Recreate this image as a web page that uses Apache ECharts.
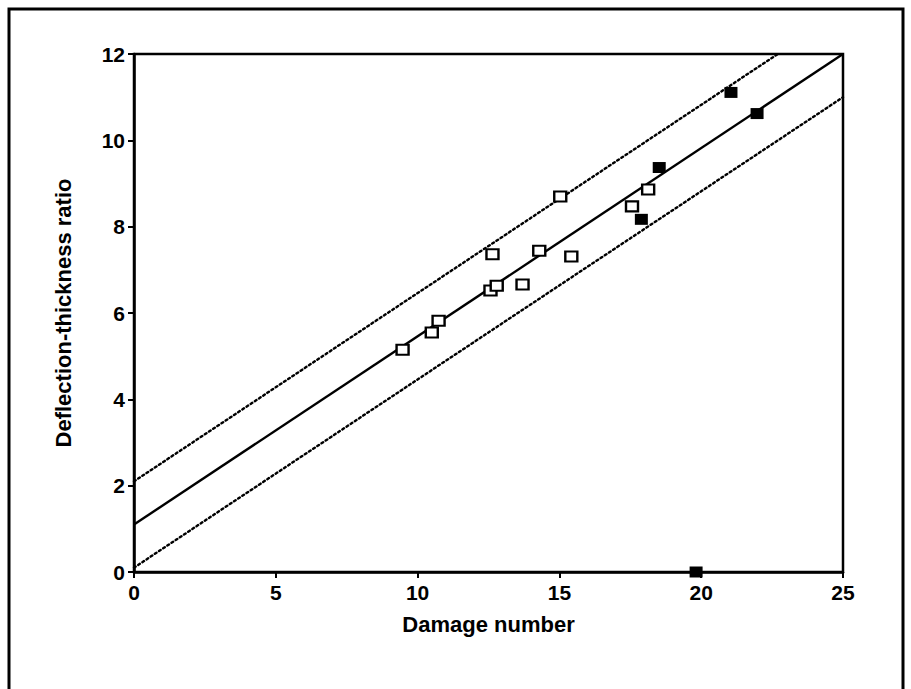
<!DOCTYPE html>
<html>
<head>
<meta charset="utf-8">
<script src="https://cdn.jsdelivr.net/npm/echarts@6/dist/echarts.min.js"></script>
<style>
  html, body { margin: 0; padding: 0; background: #fff; }
  #chart { width: 911px; height: 689px; }
</style>
</head>
<body>
<div id="chart"></div>
<script>
// open squares
const openPts = [
  [9.47, 5.15], [10.5, 5.55], [10.74, 5.82], [12.57, 6.52], [12.79, 6.63],
  [12.64, 7.36], [13.7, 6.66], [14.29, 7.44], [15.03, 8.7], [15.42, 7.31],
  [17.56, 8.47], [18.13, 8.86]
];
// filled squares
const filledPts = [
  [17.89, 8.17], [18.52, 9.37], [21.05, 11.11], [21.97, 10.62], [19.82, 0]
];
// fit line and +/- 1 bands
const fitLine = [[0, 1.1], [25, 12]];
const upperLine = [[0, 2.1], [22.7, 12]];
const lowerLine = [[0, 0.1], [25, 11]];

const xTicks = [0, 5, 10, 15, 20, 25];
const yTicks = [0, 2, 4, 6, 8, 10, 12];

const FONT = 'Liberation Sans';
const chart = echarts.init(document.getElementById('chart'), null, {renderer: 'svg'});

const dotted = {color: '#000', width: 2.4, type: [2, 3], cap: 'round'};
const labelFont = {fontFamily: FONT, fontWeight: 'bold', fontSize: 21, color: '#000'};
const nameFont = {fontFamily: FONT, fontWeight: 'bold', fontSize: 22, color: '#000'};

chart.setOption({
  animation: false,
  backgroundColor: '#fff',
  graphic: [{
    type: 'rect',
    shape: {x: 9, y: 9, width: 894, height: 700},
    style: {fill: 'none', stroke: '#000', lineWidth: 3},
    silent: true
  }],
  grid: {left: 134, right: 68, top: 54, bottom: 117, show: true,
    borderColor: '#000', borderWidth: 2.5, backgroundColor: 'transparent'},
  xAxis: {
    type: 'value', min: 0, max: 25, interval: 5,
    name: 'Damage number', nameLocation: 'middle', nameGap: 41,
    nameTextStyle: nameFont,
    axisLine: {lineStyle: {color: '#000', width: 2.5}},
    axisTick: {show: true, length: 6, lineStyle: {color: '#000', width: 2}},
    axisLabel: Object.assign({margin: 10,
      formatter: v => xTicks.includes(v) ? String(v) : ''}, labelFont),
    splitLine: {show: false}
  },
  yAxis: {
    type: 'value', min: 0, max: 12, interval: 2,
    name: 'Deflection-thickness ratio', nameLocation: 'middle', nameGap: 60,
    nameTextStyle: nameFont,
    axisLine: {show: true, lineStyle: {color: '#000', width: 2.5}},
    axisTick: {show: true, length: 6, lineStyle: {color: '#000', width: 2}},
    axisLabel: Object.assign({margin: 9,
      formatter: v => yTicks.includes(v) ? String(v) : ''}, labelFont),
    splitLine: {show: false}
  },
  series: [
    {type: 'line', data: fitLine, symbol: 'none', lineStyle: {color: '#000', width: 2.4}, z: 2},
    {type: 'line', data: upperLine, symbol: 'none', lineStyle: dotted, z: 2},
    {type: 'line', data: lowerLine, symbol: 'none', lineStyle: dotted, z: 2},
    {type: 'scatter', data: openPts, symbol: 'rect', symbolSize: [12, 10],
      itemStyle: {color: '#fff', borderColor: '#000', borderWidth: 2.2, opacity: 1}, z: 3},
    {type: 'scatter', data: filledPts, symbol: 'rect', symbolSize: [13, 11],
      itemStyle: {color: '#000', opacity: 1}, z: 3}
  ]
});
</script>
</body>
</html>
